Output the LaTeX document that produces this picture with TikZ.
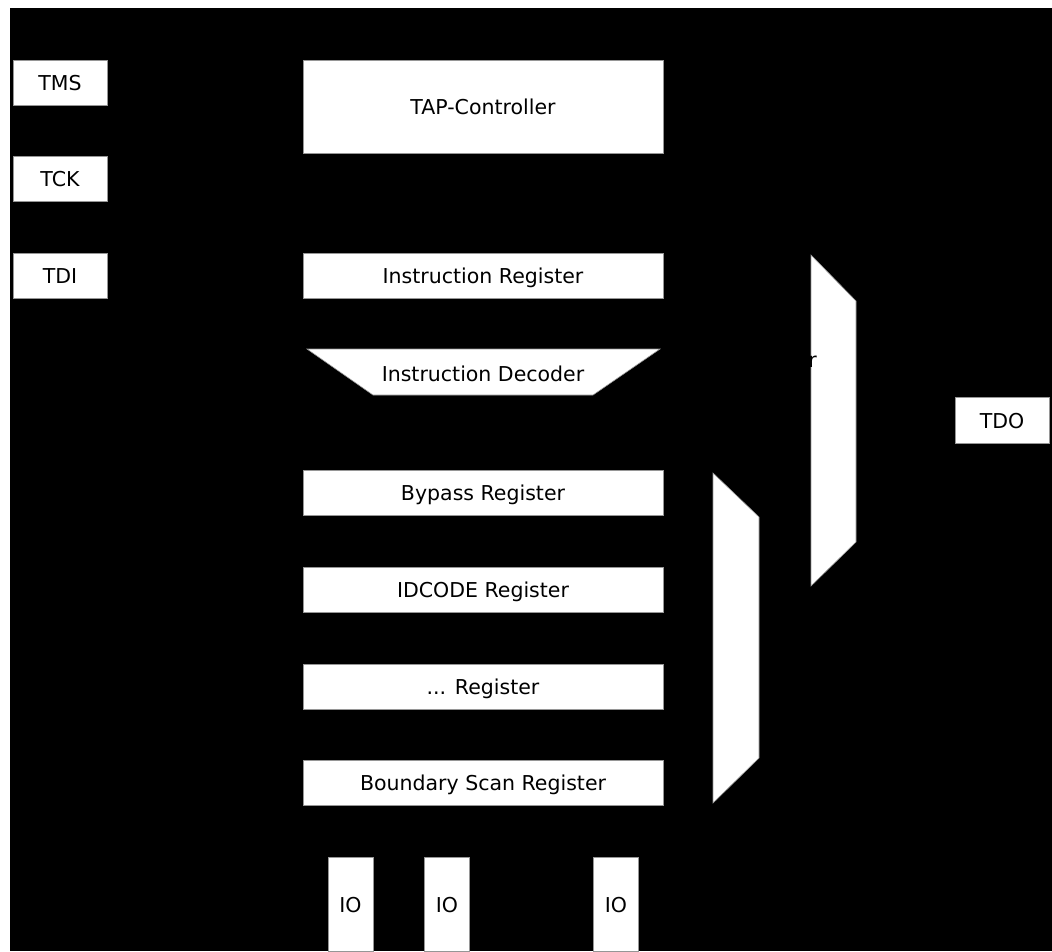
\documentclass[tikz,border=0pt]{standalone}
\usepackage{fontspec}
\setmainfont{DejaVu Sans}
\usepackage{tikz}
\usetikzlibrary{positioning,calc}
\definecolor{JTback}{RGB}{0,0,0}
\definecolor{JTedge}{RGB}{150,150,150}
\tikzset{
  blk/.style={fill=white,draw=JTedge,line width=0.6pt,inner sep=0pt,
              font=\fontsize{20.5}{24}\selectfont,text height=15pt,text depth=0pt},
  pin/.style={blk,minimum width=94pt,minimum height=45pt},
  reg/.style={blk,minimum width=360pt,minimum height=45pt},
  iobox/.style={blk,minimum width=45pt,minimum height=94pt},
  shp/.style={fill=white,draw=JTedge,line width=0.6pt},
}
\begin{document}
\begin{tikzpicture}[x=1pt,y=-1pt]
    \useasboundingbox (0,0) rectangle (1052,951);
    \fill[white] (0,0) rectangle (1052,951);
    \fill[JTback] (10,8) rectangle (1052,951);
    % pins
    \node[pin] (tms) at (60,83) {TMS};
    \node[pin] (tck) at (60,179) {TCK};
    \node[pin] (tdi) at (60,276) {TDI};
    \node[pin,minimum height=46pt] (tdo) at (1002,420.5) {TDO};
    % controller and instruction path
    \node[reg,minimum height=93pt] (tap) at (483,107) {TAP-Controller};
    \node[reg] (ir) at (483,276) {Instruction Register};
    \draw[shp] (307,349) coordinate (dtl) -- (660,349) coordinate (dtr)
        -- (593,395) coordinate (dbr) -- (373,395) coordinate (dbl) -- cycle;
    \node[font=\fontsize{20.5}{24}\selectfont,text height=15pt,text depth=0pt] (dec) at (483,373.5) {Instruction Decoder};
    % data registers
    \node[reg] (byp) at (483,493) {Bypass Register};
    \node[reg] (idc) at (483,590) {IDCODE Register};
    \node[reg] (oth) at (483,686.5) {... Register};
    \node[reg] (bsr) at (483,783) {Boundary Scan Register};
    % io cells
    \node[iobox] (io1) at (350.5,904.5) {IO};
    \node[iobox] (io2) at (447,904.5) {IO};
    \node[iobox] (io3) at (616,904.5) {IO};
    % multiplexers
    \draw[shp] (713,473) -- (759,517) -- (759,758) -- (713,803) -- cycle;
    \draw[shp] (811,255) -- (856,301) -- (856,542) -- (811,586) -- cycle;
    \node[anchor=base east,inner sep=0pt,text=black,font=\fontsize{20.5}{24}\selectfont] (mlab) at (817,367) {r};
\end{tikzpicture}
\end{document}
